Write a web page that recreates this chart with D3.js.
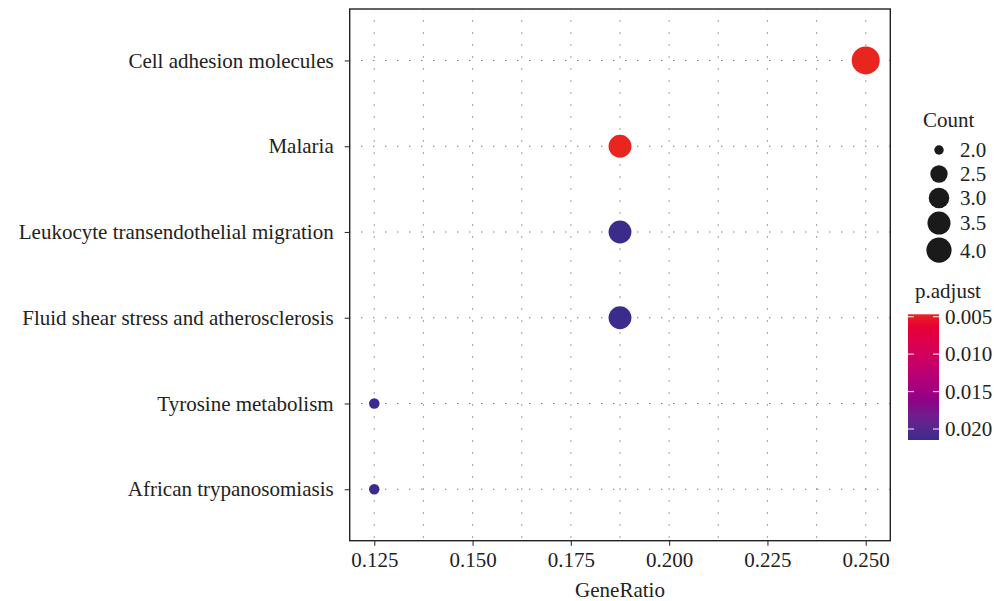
<!DOCTYPE html>
<html>
<head>
<meta charset="utf-8">
<script src="https://cdn.jsdelivr.net/npm/d3@7"></script>
<style>
  body { margin: 0; background: #fff; }
  svg text { font-family: "Liberation Serif", "DejaVu Serif", serif; fill: #222; }
</style>
</head>
<body>
<svg id="dotChart" width="994" height="601"></svg>
<script>
// pathway terms, top to bottom
const terms = [
  "Cell adhesion molecules",
  "Malaria",
  "Leukocyte transendothelial migration",
  "Fluid shear stress and atherosclerosis",
  "Tyrosine metabolism",
  "African trypanosomiasis"
];
const geneRatio = [0.25, 0.1875, 0.1875, 0.1875, 0.125, 0.125];
const counts = [4, 3, 3, 3, 2, 2];
const pAdjust = [0.00468, 0.0047, 0.0214, 0.02145, 0.02147, 0.02147];

const xTicks = [0.125, 0.150, 0.175, 0.200, 0.225, 0.250];
const xMinor = [0.1375, 0.1625, 0.1875, 0.2125, 0.2375];
const countBreaks = [2.0, 2.5, 3.0, 3.5, 4.0];
const pBreaks = [0.005, 0.010, 0.015, 0.020];

const data = terms.map((t, i) => ({ term: t, ratio: geneRatio[i], count: counts[i], p: pAdjust[i] }));

const svg = d3.select("#dotChart");
const panel = { left: 349.7, right: 890.3, top: 9, bottom: 540.7 };
const fontSize = 21;
const serif = "'Liberation Serif', 'DejaVu Serif', serif";

// scales
const xMin = d3.min(geneRatio), xMax = d3.max(geneRatio);
const pad = (xMax - xMin) * 0.05;
const xScale = d3.scaleLinear()
  .domain([xMin - pad, xMax + pad])
  .range([panel.left, panel.right]);

const yScale = d3.scalePoint()
  .domain(terms)
  .range([panel.top, panel.bottom])
  .padding(0.6);

// ggplot-like area size: sqrt of rescaled count
const cMin = d3.min(counts), cMax = d3.max(counts);
const sizeScale = d3.scaleLinear().domain([0, 1]).range([5.25, 14]);
const radius = c => sizeScale(Math.sqrt((c - cMin) / (cMax - cMin)));

const pExtent = d3.extent(pAdjust);
const colorScale = d3.scaleLinear()
  .domain(pExtent)
  .range(["#e8251f", "#3a2c8c"])
  .interpolate(d3.interpolateHcl);

// grid (dotted)
const grid = svg.append("g")
  .attr("stroke", "#555")
  .attr("stroke-width", 1.1)
  .attr("stroke-dasharray", "1.1,10.9")
  .attr("stroke-dashoffset", 0.5);

xTicks.concat(xMinor).forEach(v => {
  grid.append("line")
    .attr("x1", xScale(v)).attr("x2", xScale(v))
    .attr("y1", panel.top).attr("y2", panel.bottom);
});
terms.forEach(t => {
  grid.append("line")
    .attr("x1", panel.left).attr("x2", panel.right)
    .attr("y1", yScale(t)).attr("y2", yScale(t));
});

// points
svg.append("g")
  .selectAll("circle")
  .data(data)
  .enter()
  .append("circle")
  .attr("cx", d => xScale(d.ratio))
  .attr("cy", d => yScale(d.term))
  .attr("r", d => radius(d.count))
  .attr("fill", d => colorScale(d.p));

// panel border
svg.append("rect")
  .attr("x", panel.left).attr("y", panel.top)
  .attr("width", panel.right - panel.left)
  .attr("height", panel.bottom - panel.top)
  .attr("fill", "none")
  .attr("stroke", "#222")
  .attr("stroke-width", 1.4);

// x axis
const xAxis = svg.append("g")
  .attr("transform", "translate(0," + panel.bottom + ")")
  .call(d3.axisBottom(xScale).tickValues(xTicks).tickFormat(d3.format(".3f")).tickSize(5).tickPadding(6));
xAxis.attr("font-family", serif).attr("font-size", fontSize);
xAxis.select(".domain").remove();
xAxis.selectAll("line").attr("stroke", "#333").attr("stroke-width", 1.1);
xAxis.selectAll("text").attr("fill", "#222");

// y axis
const yAxis = svg.append("g")
  .attr("transform", "translate(" + panel.left + ",0)")
  .call(d3.axisLeft(yScale).tickSize(5).tickPadding(11));
yAxis.attr("font-family", serif).attr("font-size", fontSize);
yAxis.select(".domain").remove();
yAxis.selectAll("line").attr("stroke", "#333").attr("stroke-width", 1.1);
yAxis.selectAll("text").attr("fill", "#222");

// x title
svg.append("text")
  .attr("x", (panel.left + panel.right) / 2)
  .attr("y", 597)
  .attr("text-anchor", "middle")
  .style("font-size", fontSize + "px")
  .text("GeneRatio");

// size legend
const sizeLegend = svg.append("g");
sizeLegend.append("text")
  .attr("x", 923).attr("y", 127)
  .style("font-size", fontSize + "px")
  .text("Count");

let ky = 138;
countBreaks.forEach(c => {
  const r = radius(c) * 0.9;
  const h = Math.max(24, 2 * r + 3);
  const cy = ky + h / 2;
  sizeLegend.append("circle")
    .attr("cx", 939).attr("cy", cy).attr("r", r)
    .attr("fill", "#1a1a1a");
  sizeLegend.append("text")
    .attr("x", 960).attr("y", cy)
    .attr("dy", "0.35em")
    .style("font-size", fontSize + "px")
    .text(d3.format(".1f")(c));
  ky += h;
});

// colour legend
const barTop = 314.3, barBottom = 440, barX = 908, barW = 31;
const barScale = d3.scaleLinear().domain(pExtent).range([barTop, barBottom]);

const defs = svg.append("defs");
const grad = defs.append("linearGradient")
  .attr("id", "pGrad")
  .attr("x1", 0).attr("x2", 0).attr("y1", 0).attr("y2", 1);
d3.range(0, 1.0001, 0.1).forEach(t => {
  grad.append("stop")
    .attr("offset", t)
    .attr("stop-color", colorScale(pExtent[0] + t * (pExtent[1] - pExtent[0])));
});

svg.append("text")
  .attr("x", 915).attr("y", 298)
  .style("font-size", fontSize + "px")
  .text("p.adjust");

svg.append("rect")
  .attr("x", barX).attr("y", barTop)
  .attr("width", barW).attr("height", barBottom - barTop)
  .attr("fill", "url(#pGrad)");

pBreaks.forEach(v => {
  const y = barScale(v);
  svg.append("line")
    .attr("x1", barX).attr("x2", barX + 6)
    .attr("y1", y).attr("y2", y)
    .attr("stroke", "#fff").attr("stroke-opacity", 0.8).attr("stroke-width", 1.2);
  svg.append("line")
    .attr("x1", barX + barW - 6).attr("x2", barX + barW)
    .attr("y1", y).attr("y2", y)
    .attr("stroke", "#fff").attr("stroke-opacity", 0.8).attr("stroke-width", 1.2);
  svg.append("text")
    .attr("x", 945).attr("y", y)
    .attr("dy", "0.35em")
    .style("font-size", fontSize + "px")
    .text(d3.format(".3f")(v));
});
</script>
</body>
</html>
